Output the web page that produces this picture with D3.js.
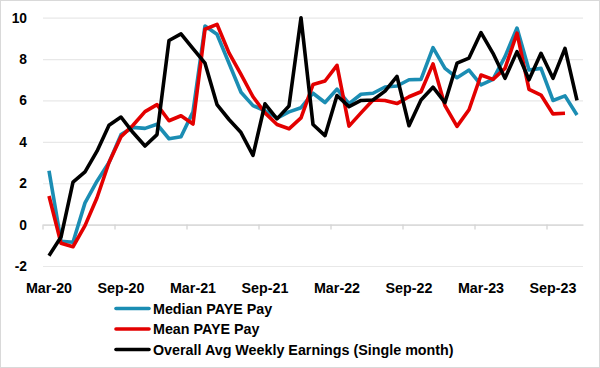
<!DOCTYPE html>
<html>
<head>
<meta charset="utf-8">
<script src="https://cdn.jsdelivr.net/npm/d3@7"></script>
<style>
  html, body { margin: 0; padding: 0; background: #fff; }
  svg { display: block; }
  text { font-family: "Liberation Sans", Arial, sans-serif; font-weight: bold; fill: #000; }
</style>
</head>
<body>
<svg id="chart" width="600" height="368"></svg>
<script>
const months = ["Mar-20","Apr-20","May-20","Jun-20","Jul-20","Aug-20","Sep-20","Oct-20","Nov-20","Dec-20",
  "Jan-21","Feb-21","Mar-21","Apr-21","May-21","Jun-21","Jul-21","Aug-21","Sep-21","Oct-21","Nov-21","Dec-21",
  "Jan-22","Feb-22","Mar-22","Apr-22","May-22","Jun-22","Jul-22","Aug-22","Sep-22","Oct-22","Nov-22","Dec-22",
  "Jan-23","Feb-23","Mar-23","Apr-23","May-23","Jun-23","Jul-23","Aug-23","Sep-23","Oct-23","Nov-23"];

const tickLabels = ["Mar-20","Sep-20","Mar-21","Sep-21","Mar-22","Sep-22","Mar-23","Sep-23"];
const yTicks = [-2, 0, 2, 4, 6, 8, 10];

const medianPaye = [2.6,-0.8,-0.85,1.05,2.1,3.0,4.35,4.7,4.65,4.85,4.15,4.25,5.45,9.6,9.2,7.8,6.4,5.75,5.5,5.15,5.45,5.65,
  6.35,5.9,6.55,5.85,6.3,6.35,6.65,6.7,7.0,7.02,8.55,7.55,7.1,7.47,6.75,7.02,8.12,9.5,7.47,7.55,6.0,6.22,5.3];

const meanPaye = [1.38,-0.9,-1.07,-0.05,1.3,3.0,4.25,4.8,5.46,5.8,5.02,5.26,4.86,9.44,9.68,8.3,7.26,6.18,5.4,4.84,4.63,5.16,
  6.77,6.94,7.7,4.76,5.4,6.02,6.0,5.85,6.18,6.42,7.77,5.75,4.75,5.55,7.23,7.02,7.55,9.25,6.54,6.26,5.35,5.38];

const aweSingle = [-1.5,-0.6,2.05,2.55,3.55,4.8,5.2,4.45,3.8,4.35,8.9,9.22,8.5,7.8,5.8,5.08,4.45,3.35,5.84,5.11,5.73,10.0,
  4.84,4.3,6.24,5.7,6.0,6.02,6.45,7.16,4.78,6.02,6.64,5.9,7.8,8.05,9.28,8.28,7.07,8.36,7.0,8.28,7.07,8.52,6.0];

const seriesNames = ["Median PAYE Pay", "Mean PAYE Pay", "Overall Avg Weekly Earnings (Single month)"];
const seriesColors = ["#1b8db3", "#e30000", "#000000"];

const svg = d3.select("#chart");
const W = 600, H = 368;
const m = {left: 43, right: 17, top: 17.7, bottom: 102};

svg.append("rect").attr("x", 0.5).attr("y", 0.5).attr("width", W - 1).attr("height", H - 1)
  .attr("fill", "#fff").attr("stroke", "#d9d9d9");

const x = d3.scaleBand().domain(months).range([m.left, W - m.right]).padding(0);
const y = d3.scaleLinear().domain([-2, 10]).range([H - m.bottom, m.top]);

// gridlines + y labels
const yAxis = d3.axisLeft(y).tickValues(yTicks).tickSize(-(W - m.right - m.left)).tickPadding(16).tickFormat(d3.format("d"));
const gy = svg.append("g").attr("transform", `translate(${m.left},0)`).call(yAxis);
gy.select(".domain").remove();
gy.selectAll(".tick line").attr("stroke", "#e8e8e8").attr("stroke-width", 1.2);
gy.selectAll(".tick text").attr("font-size", 13.8).attr("font-family", "Liberation Sans, Arial, sans-serif").attr("font-weight", "bold").attr("fill", "#000")
  .text(d => d < 0 ? "-" + Math.abs(d) : d);

// x axis at 0
const tickMonths = months.filter((d, i) => i % 6 === 0);
const xAxis = d3.axisBottom(x).tickValues(tickMonths).tickSize(5).tickSizeOuter(0).tickFormat("");
const gx = svg.append("g").attr("transform", `translate(0,${y(0)})`).call(xAxis);
gx.select(".domain").attr("stroke", "#d4d4d4").attr("stroke-width", 1.3);
gx.selectAll(".tick line").attr("stroke", "#d4d4d4").attr("stroke-width", 1.3)
  .attr("x1", -x.bandwidth() / 2).attr("x2", -x.bandwidth() / 2);

// x labels, under the plot
const gl = svg.append("g");
gl.selectAll("text").data(tickLabels).join("text")
  .attr("x", d => x(d) + x.bandwidth() / 2)
  .attr("y", 293)
  .attr("text-anchor", "middle")
  .attr("font-size", 14.3)
  .text(d => d);

// lines
const line = d3.line().x((d, i) => x(months[i]) + x.bandwidth() / 2).y(d => y(d));
const allSeries = [medianPaye, meanPaye, aweSingle];
allSeries.forEach((s, k) => {
  svg.append("path").datum(s)
    .attr("fill", "none").attr("stroke", seriesColors[k]).attr("stroke-width", 3.6)
    .attr("stroke-linejoin", "round").attr("stroke-linecap", "butt")
    .attr("d", line);
});

// legend
const leg = svg.append("g");
seriesNames.forEach((name, k) => {
  const yy = 308.5 + k * 20.5;
  leg.append("line").attr("x1", 116).attr("x2", 149).attr("y1", yy).attr("y2", yy)
    .attr("stroke", seriesColors[k]).attr("stroke-width", 3.6).attr("stroke-linecap", "round");
  leg.append("text").attr("x", 153).attr("y", yy).attr("dy", "0.36em").attr("font-size", 14.3).text(name);
});
</script>
</body>
</html>
